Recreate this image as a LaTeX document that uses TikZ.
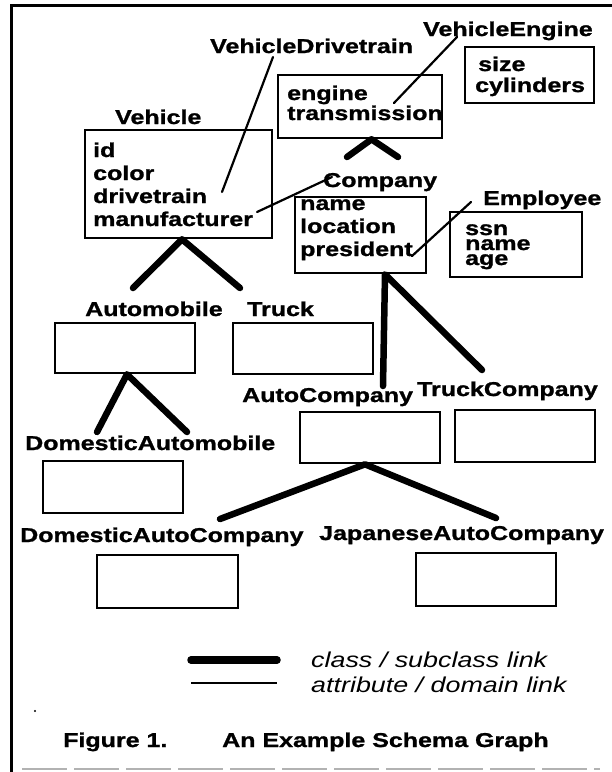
\documentclass[tikz,border=0pt]{standalone}
\usepackage{fontspec}
\setmainfont[FakeStretch=1.25, BoldFeatures={FakeBold=1.2}]{Liberation Sans}
\begin{document}
\begin{tikzpicture}[x=1pt, y=-1pt,
    lbl/.style={font=\bfseries\fontsize{20}{22}\selectfont, anchor=base west, inner sep=0pt},
    key/.style={font=\itshape\fontsize{21.5}{23}\selectfont, anchor=base west, inner sep=0pt},
    box/.style={draw, line width=2.6pt, inner sep=0pt},
    isa/.style={line width=6.5pt, line cap=round, line join=round},
    attr/.style={line width=2.2pt, line cap=round}]
    \useasboundingbox (0,0) rectangle (612,772);

    \draw[line width=3pt] (11.5,772) -- (11.5,5.5) -- (612,5.5);
    \draw[gray!60, line width=1.2pt, dash pattern=on 45pt off 7pt] (22,769) -- (600,769);
    \fill (35,711) circle (1.2pt);

    \node[box, minimum width=187pt, minimum height=108pt] (vehicle) at (178.5,184) {};
    \node[box, minimum width=164pt, minimum height=63pt] (vdt) at (360,106.5) {};
    \node[box, minimum width=129pt, minimum height=56pt] (veng) at (529.5,75) {};
    \node[box, minimum width=131pt, minimum height=76pt] (company) at (360.5,235) {};
    \node[box, minimum width=132pt, minimum height=65pt] (employee) at (516,244.5) {};
    \node[box, minimum width=140pt, minimum height=50pt] (auto) at (125,348) {};
    \node[box, minimum width=140pt, minimum height=51pt] (truck) at (303,348.5) {};
    \node[box, minimum width=140pt, minimum height=52pt] (domauto) at (113,487) {};
    \node[box, minimum width=140pt, minimum height=51pt] (autoco) at (370,437.5) {};
    \node[box, minimum width=140pt, minimum height=52pt] (truckco) at (525,436) {};
    \node[box, minimum width=141pt, minimum height=53pt] (domautoco) at (167.5,581.5) {};
    \node[box, minimum width=140pt, minimum height=53pt] (japautoco) at (486,579.5) {};

    \node[lbl] (l-vdt) at (210,53) {VehicleDrivetrain};
    \node[lbl] (l-veng) at (423,36) {VehicleEngine};
    \node[lbl] (l-veh) at (115,124) {Vehicle};
    \node[lbl] (l-co) at (323,187) {Company};
    \node[lbl] (l-emp) at (483,205) {Employee};
    \node[lbl] (l-auto) at (85,316) {Automobile};
    \node[lbl] (l-truck) at (247,316) {Truck};
    \node[lbl] (l-autoco) at (242,402) {AutoCompany};
    \node[lbl] (l-truckco) at (417,396) {TruckCompany};
    \node[lbl] (l-domauto) at (25,450) {DomesticAutomobile};
    \node[lbl] (l-domautoco) at (20,542) {DomesticAutoCompany};
    \node[lbl] (l-japautoco) at (319,540) {JapaneseAutoCompany};

    \foreach \t [count=\i] in {id,color,drivetrain,manufacturer}
        \node[lbl] (veh-\i) at (93,134+23*\i) {\t};
    \foreach \t [count=\i] in {engine,transmission}
        \node[lbl] (vdt-\i) at (287,80+20*\i) {\t};
    \node[lbl] (veng-1) at (478,71) {size};
    \node[lbl] (veng-2) at (475,92) {cylinders};
    \foreach \t [count=\i] in {name,location,president}
        \node[lbl] (co-\i) at (300,187+23*\i) {\t};
    \foreach \t [count=\i] in {ssn,name,age}
        \node[lbl] (emp-\i) at (465,220+15*\i) {\t};

    \coordinate (veh-l) at (133,288);
    \coordinate (veh-r) at (240,288);
    \coordinate (vdt-l) at (347,157);
    \coordinate (vdt-r) at (398,157);
    \coordinate (co-l) at (383,386);
    \coordinate (co-r) at (482,370);
    \coordinate (auto-l) at (97,432);
    \coordinate (auto-r) at (187,432);
    \coordinate (autoco-l) at (220,519);
    \coordinate (autoco-r) at (496,518);
    \draw[isa] (veh-l) -- ([xshift=3.5pt]vehicle.south) -- (veh-r);
    \draw[isa] (vdt-l) -- ([xshift=11.5pt]vdt.south) -- (vdt-r);
    \draw[isa] (co-l) -- ([xshift=24.5pt]company.south) -- (co-r);
    \draw[isa] (auto-l) -- ([xshift=2pt]auto.south) -- (auto-r);
    \draw[isa] (autoco-l) -- ([xshift=-5pt]autoco.south) -- (autoco-r);

    \coordinate (vdt-in) at (273,57);
    \coordinate (drv-out) at (222,192);
    \coordinate (co-in) at (332,177);
    \coordinate (mfr-out) at (257,212);
    \coordinate (veng-in) at (457,37);
    \coordinate (trn-out) at (394,103);
    \coordinate (emp-in) at (471,202);
    \coordinate (pres-out) at (412,256);
    \draw[attr] (vdt-in) -- (drv-out);
    \draw[attr] (co-in) -- (mfr-out);
    \draw[attr] (veng-in) -- (trn-out);
    \draw[attr] (emp-in) -- (pres-out);

    \coordinate (key-a) at (191,660);
    \coordinate (key-b) at (277,660);
    \coordinate (key-c) at (191,683);
    \coordinate (key-d) at (277,683);
    \draw[isa, line width=7.5pt] (key-a) -- (key-b);
    \draw[attr, line cap=butt] (key-c) -- (key-d);
    \node[key] (k-isa) at (311,667) {class / subclass link};
    \node[key] (k-attr) at (311,692) {attribute / domain link};

    \node[lbl] (fig) at (63,747) {Figure 1.};
    \node[lbl] (title) at (222,747) {An Example Schema Graph};
\end{tikzpicture}
\end{document}
